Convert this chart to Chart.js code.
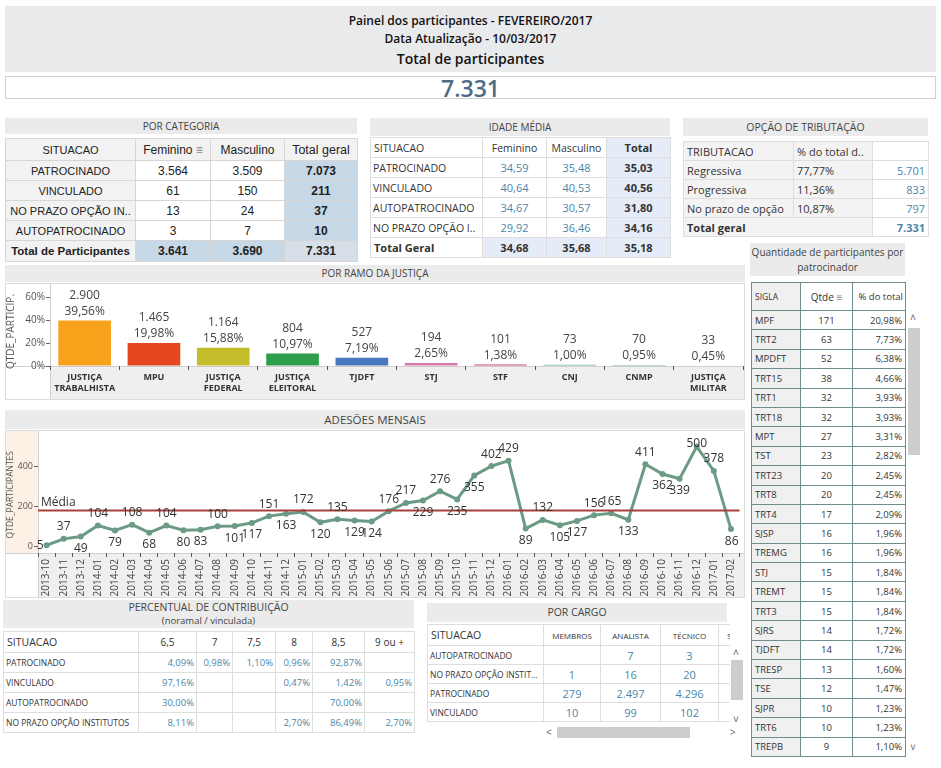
<!DOCTYPE html>
<html>
<head>
<meta charset="utf-8">
<script src="https://cdn.jsdelivr.net/npm/chart.js@4.4.1/dist/chart.umd.min.js"></script>
<style>
body{margin:0;width:941px;height:768px;background:#fff;font-family:'Open Sans',sans-serif;color:#333;position:relative;overflow:hidden}
.abs{position:absolute}
.ttl{background:#ebebeb;text-align:center;font-size:10px;color:#444}
table{border-collapse:collapse;table-layout:fixed}
td{padding:0 3px;white-space:nowrap;overflow:hidden;text-overflow:ellipsis}
#cat td{border:1px solid #d6d6d6;text-align:center;color:#222;padding:0 2px}
#idade td,#trib td,#contrib td,#cargo td{border:1px solid #dedede}
#pat td{border:1px solid #6f8d8d}
.blue{color:#4a86aa}
.sb{position:absolute;font-size:10px;color:#666}
</style>
</head>
<body>

<div class="abs" style="left:5px;top:6px;width:931px;height:66px;background:#e9eaec;text-align:center">
  <div style="font-size:12px;font-weight:600;margin-top:6px;line-height:18px;color:#111">Painel dos participantes - FEVEREIRO/2017</div>
  <div style="font-size:12px;font-weight:600;line-height:18px;color:#111">Data Atualização - 10/03/2017</div>
  <div style="font-size:14px;font-weight:600;line-height:22px;color:#111">Total de participantes</div>
</div>
<div class="abs" id="total" style="left:5px;top:76px;width:929px;height:21px;border:1px solid #cfcfcf;text-align:center;font-size:23px;line-height:22px;color:#4d6b86;font-weight:600"></div>

<div class="abs" id="cat" style="left:5px;top:118px;width:352px"></div>
<div class="abs" id="idade" style="left:370px;top:118px;width:300px"></div>
<div class="abs" id="trib" style="left:683px;top:118px;width:245px"></div>
<div class="abs" id="pat" style="left:750px;top:243px;width:156px"></div>
<div class="sb" style="left:910px;top:310px">&#x2C4;</div>
<div class="abs" style="left:908px;top:328px;width:12px;height:127px;background:#cdcdcd"></div>
<div class="sb" style="left:910px;top:740px">&#x2C5;</div>

<div class="abs" style="left:5px;top:265px;width:740px;height:17px;line-height:17px;background:#ebebeb;text-align:center;font-size:10px;color:#444">POR RAMO DA JUSTIÇA</div>
<div class="abs" style="left:5px;top:283px"><canvas id="ramo" width="740" height="117"></canvas></div>

<div class="abs" style="left:5px;top:410px;width:740px;height:19px;line-height:19px;background:#ebebeb;text-align:center;font-size:11.5px;color:#444">ADESÕES MENSAIS</div>
<div class="abs" style="left:5px;top:430px"><canvas id="adesoes" width="740" height="168"></canvas></div>

<div class="abs" id="contrib" style="left:3px;top:600px;width:411px"></div>
<div class="abs" id="cargo" style="left:427px;top:603px;width:303px;overflow:hidden"></div>
<div class="sb" style="left:733px;top:645px">&#x2C4;</div>
<div class="abs" style="left:731px;top:660px;width:12px;height:40px;background:#cdcdcd"></div>
<div class="sb" style="left:733px;top:712px">&#x2C5;</div>
<div class="sb" style="left:546px;top:725px">&lt;</div>
<div class="abs" style="left:557px;top:727px;width:133px;height:11px;background:#cdcdcd"></div>
<div class="sb" style="left:730px;top:725px">&gt;</div>

<script>
// ---- dados ----
const totalParticipantes = 7331;

const catSituacao = ['PATROCINADO', 'VINCULADO', 'NO PRAZO OPÇÃO IN..', 'AUTOPATROCINADO'];
const catFeminino = [3564, 61, 13, 3];
const catMasculino = [3509, 150, 24, 7];
const catTotal = [7073, 211, 37, 10];
const catTotais = [3641, 3690, 7331];

const idadeSituacao = ['PATROCINADO', 'VINCULADO', 'AUTOPATROCINADO', 'NO PRAZO OPÇÃO I..'];
const idadeFeminino = [34.59, 40.64, 34.67, 29.92];
const idadeMasculino = [35.48, 40.53, 30.57, 36.46];
const idadeTotal = [35.03, 40.56, 31.80, 34.16];
const idadeGeral = [34.68, 35.68, 35.18];

const tribTipo = ['Regressiva', 'Progressiva', 'No prazo de opção'];
const tribPct = [77.77, 11.36, 10.87];
const tribQtde = [5701, 833, 797];
const tribTotal = 7331;

const ramoLabels = [['JUSTIÇA', 'TRABALHISTA'], 'MPU', ['JUSTIÇA', 'FEDERAL'], ['JUSTIÇA', 'ELEITORAL'], 'TJDFT', 'STJ', 'STF', 'CNJ', 'CNMP', ['JUSTIÇA', 'MILITAR']];
const ramoQtde = [2900, 1465, 1164, 804, 527, 194, 101, 73, 70, 33];
const ramoPct = [39.56, 19.98, 15.88, 10.97, 7.19, 2.65, 1.38, 1.00, 0.95, 0.45];
const ramoCores = ['#f8a21c', '#e5481f', '#c3bd2b', '#2f9e4a', '#4a78c0', '#d77aa8', '#c9476b', '#6fae9e', '#6fae9e', '#a9718f'];

const meses = ['2013-10', '2013-11', '2013-12', '2014-01', '2014-02', '2014-03', '2014-04', '2014-05', '2014-06', '2014-07',
  '2014-08', '2014-09', '2014-10', '2014-11', '2014-12', '2015-01', '2015-02', '2015-03', '2015-04', '2015-05',
  '2015-06', '2015-07', '2015-08', '2015-09', '2015-10', '2015-11', '2015-12', '2016-01', '2016-02', '2016-03',
  '2016-04', '2016-05', '2016-06', '2016-07', '2016-08', '2016-09', '2016-10', '2016-11', '2016-12', '2017-01', '2017-02'];
const adesoes = [5, 37, 49, 104, 79, 108, 68, 104, 80, 83,
  100, 101, 117, 151, 163, 172, 120, 135, 129, 124,
  176, 217, 229, 276, 235, 355, 402, 429, 89, 132,
  105, 127, 156, 165, 133, 411, 362, 339, 500, 378, 86];
// onde fica o rótulo: a = acima, b = abaixo, l = esquerda
const adesoesPos = ['l', 'a', 'b', 'a', 'b', 'a', 'b', 'a', 'b', 'b',
  'a', 'b', 'b', 'a', 'b', 'a', 'b', 'a', 'b', 'b',
  'a', 'a', 'b', 'a', 'b', 'b', 'a', 'a', 'b', 'a',
  'b', 'b', 'a', 'a', 'b', 'a', 'b', 'b', 'a', 'a', 'b'];
const adesoesTicks = [0, 200, 400];

const patSigla = ['MPF', 'TRT2', 'MPDFT', 'TRT15', 'TRT1', 'TRT18', 'MPT', 'TST', 'TRT23', 'TRT8', 'TRT4', 'SJSP',
  'TREMG', 'STJ', 'TREMT', 'TRT3', 'SJRS', 'TJDFT', 'TRESP', 'TSE', 'SJPR', 'TRT6', 'TREPB'];
const patQtde = [171, 63, 52, 38, 32, 32, 27, 23, 20, 20, 17, 16, 16, 15, 15, 15, 14, 14, 13, 12, 10, 10, 9];
const patPct = [20.98, 7.73, 6.38, 4.66, 3.93, 3.93, 3.31, 2.82, 2.45, 2.45, 2.09, 1.96, 1.96, 1.84, 1.84, 1.84,
  1.72, 1.72, 1.60, 1.47, 1.23, 1.23, 1.10];

const contribCols = ['6,5', '7', '7,5', '8', '8,5', '9 ou +'];
const contribSituacao = ['PATROCINADO', 'VINCULADO', 'AUTOPATROCINADO', 'NO PRAZO OPÇÃO INSTITUTOS'];
const contribValores = [
  [4.09, 0.98, 1.10, 0.96, 92.87, null],
  [97.16, null, null, 0.47, 1.42, 0.95],
  [30.00, null, null, null, 70.00, null],
  [8.11, null, null, 2.70, 86.49, 2.70]
];

const cargoCols = ['MEMBROS', 'ANALISTA', 'TÉCNICO', 'S/I'];
const cargoSituacao = ['AUTOPATROCINADO', 'NO PRAZO OPÇÃO INSTITU..', 'PATROCINADO', 'VINCULADO'];
const cargoValores = [
  [null, 7, 3, null],
  [1, 16, 20, null],
  [279, 2497, 4296, null],
  [10, 99, 102, null]
];

// ---- formatos ----
function fInt(n) { return String(n).replace(/\B(?=(\d{3})+(?!\d))/g, '.'); }
function fDec(n) { return n.toFixed(2).replace('.', ','); }
function fPct(n) { return fDec(n) + '%'; }
function cols(ws) { return '<colgroup>' + ws.map(w => `<col style="width:${w}px">`).join('') + '</colgroup>'; }

document.getElementById('total').textContent = fInt(totalParticipantes);

// POR CATEGORIA
let h = '<div class="ttl" style="height:16px;line-height:16px">POR CATEGORIA</div>';
h += `<table style="margin-top:4px;width:352px;font-family:'Liberation Sans',Arial,sans-serif;font-size:12px">` + cols([130, 75, 74, 73]);
h += '<tr style="height:22px;background:#f2f2f2"><td style="font-size:11px">SITUACAO</td><td>Feminino <span style="color:#888">&#8801;</span></td><td>Masculino</td><td style="font-size:12.5px">Total geral</td></tr>';
for (let i = 0; i < catSituacao.length; i++) {
  h += `<tr style="height:20px"><td style="background:#f2f2f2;font-size:11px">${catSituacao[i]}</td><td>${fInt(catFeminino[i])}</td><td>${fInt(catMasculino[i])}</td>` +
    `<td style="background:#c6d7e6;font-weight:bold;border-left:1px dotted #7d8ea0">${fInt(catTotal[i])}</td></tr>`;
}
h += `<tr style="height:21px;font-weight:bold"><td style="background:#f2f2f2;font-size:11.5px;padding:0 1px">Total de Participantes</td>` +
  `<td style="background:#c6d7e6">${fInt(catTotais[0])}</td><td style="background:#c6d7e6">${fInt(catTotais[1])}</td>` +
  `<td style="background:#d6dfe8;border-left:1px dotted #7d8ea0">${fInt(catTotais[2])}</td></tr></table>`;
document.getElementById('cat').innerHTML = h;

// IDADE MÉDIA
h = '<div class="ttl" style="height:18px;line-height:18px">IDADE MÉDIA</div>';
h += '<table style="margin-top:1px;width:300px;font-size:10.5px">' + cols([112, 64, 60, 64]);
h += '<tr style="height:20px"><td>SITUACAO</td><td style="text-align:center">Feminino</td><td style="text-align:center;padding:0 1px">Masculino</td><td style="text-align:center;font-weight:bold;background:#e6ecf7;font-size:11px">Total</td></tr>';
for (let i = 0; i < idadeSituacao.length; i++) {
  h += `<tr style="height:20px"><td style="padding:0 2px">${idadeSituacao[i]}</td><td class="blue" style="text-align:center;font-size:11px">${fDec(idadeFeminino[i])}</td>` +
    `<td class="blue" style="text-align:center;font-size:11px">${fDec(idadeMasculino[i])}</td><td style="text-align:center;font-weight:bold;background:#e6ecf7;font-size:11px">${fDec(idadeTotal[i])}</td></tr>`;
}
h += `<tr style="height:20px;font-weight:bold;font-size:11px"><td>Total Geral</td><td style="text-align:center;background:#e6ecf7">${fDec(idadeGeral[0])}</td>` +
  `<td style="text-align:center;background:#e6ecf7">${fDec(idadeGeral[1])}</td><td style="text-align:center;background:#e6ecf7">${fDec(idadeGeral[2])}</td></tr></table>`;
document.getElementById('idade').innerHTML = h;

// OPÇÃO DE TRIBUTAÇÃO
h = '<div class="ttl" style="height:18px;line-height:18px;font-size:10.5px">OPÇÃO DE TRIBUTAÇÃO</div>';
h += '<table style="margin-top:5px;width:245px;font-size:11px">' + cols([110, 79, 56]);
h += '<tr style="height:19px;background:#f3f3f3"><td>TRIBUTACAO</td><td>% do total d..</td><td style="background:#fff"></td></tr>';
for (let i = 0; i < tribTipo.length; i++) {
  h += `<tr style="height:19px"><td style="background:#f3f3f3">${tribTipo[i]}</td><td style="background:#f3f3f3">${fPct(tribPct[i])}</td><td class="blue" style="text-align:right">${fInt(tribQtde[i])}</td></tr>`;
}
h += `<tr style="height:19px;font-weight:bold"><td colspan="2" style="background:#f3f3f3">Total geral</td><td class="blue" style="text-align:right">${fInt(tribTotal)}</td></tr></table>`;
document.getElementById('trib').innerHTML = h;

// QUANTIDADE POR PATROCINADOR
h = '<div class="ttl" style="width:155px;height:33px;line-height:15px;padding-top:2px;box-sizing:border-box;font-size:10px">Quantidade de participantes por<br>patrocinador</div>';
h += '<table style="margin-top:6px;margin-left:1px;width:154px;font-size:9.5px">' + cols([49, 52, 53]);
h += '<tr style="height:28px"><td style="background:#f0f0f0;font-size:8.5px">SIGLA</td><td style="text-align:center;font-size:10px">Qtde <span style="color:#888">&#8801;</span></td><td style="text-align:right;padding:0 2px">% do total</td></tr>';
for (let i = 0; i < patSigla.length; i++) {
  h += `<tr style="height:19.4px"><td style="background:#f0f0f0">${patSigla[i]}</td><td style="text-align:center">${patQtde[i]}</td><td style="text-align:right">${fPct(patPct[i])}</td></tr>`;
}
h += '</table>';
document.getElementById('pat').innerHTML = h;

// PERCENTUAL DE CONTRIBUIÇÃO
h = '<div class="ttl" style="height:28px;line-height:13px;padding-top:1px;box-sizing:border-box;font-size:10.5px">PERCENTUAL DE CONTRIBUIÇÃO<br><span style="font-size:9.5px">(noramal / vinculada)</span></div>';
h += '<table style="margin-top:3px;width:411px;font-size:9px">' + cols([135, 58, 36, 43, 37, 52, 50]);
h += '<tr style="height:21px;font-size:10.5px"><td>SITUACAO</td>' + contribCols.map(c => `<td style="text-align:center;font-size:10px">${c}</td>`).join('') + '</tr>';
for (let i = 0; i < contribSituacao.length; i++) {
  h += `<tr style="height:20px"><td style="padding:0 2px;font-size:8.5px">${contribSituacao[i]}</td>` +
    contribValores[i].map(v => `<td class="blue" style="text-align:right;padding:0 2px;font-size:9.5px">${v === null ? '' : fPct(v)}</td>`).join('') + '</tr>';
}
h += '</table>';
document.getElementById('contrib').innerHTML = h;

// POR CARGO
h = '<div class="ttl" style="width:300px;height:19px;line-height:19px;font-size:10.5px">POR CARGO</div>';
h += '<table style="margin-top:2px;width:318px;font-size:8.5px">' + cols([116, 57, 60, 58, 27]);
h += '<tr style="height:21px"><td style="font-size:10.5px">SITUACAO</td>' + cargoCols.map(c => `<td style="text-align:center;font-size:8px">${c}</td>`).join('') + '</tr>';
for (let i = 0; i < cargoSituacao.length; i++) {
  h += `<tr style="height:19px"><td style="padding:0 2px">${cargoSituacao[i]}</td>` +
    cargoValores[i].map(v => `<td class="blue" style="text-align:center;font-size:11px">${v === null ? '' : fInt(v)}</td>`).join('') + '</tr>';
}
h += '</table>';
document.getElementById('cargo').innerHTML = h;

// ---- gráfico: por ramo da justiça ----
const fundoEixos = {
  id: 'fundoEixos',
  beforeDraw(chart, args, opts) {
    const { ctx, chartArea: a, width, height } = chart;
    ctx.save();
    if (opts.yColor) {
      ctx.fillStyle = opts.yColor;
      ctx.fillRect(0, 0, a.left, a.bottom);
    }
    ctx.fillStyle = '#efefef';
    ctx.fillRect(a.left, a.bottom, width - a.left, height - a.bottom);
    ctx.strokeStyle = '#cfcfcf';
    ctx.lineWidth = 1;
    ctx.beginPath();
    ctx.moveTo(0, a.bottom + 0.5); ctx.lineTo(width, a.bottom + 0.5);
    ctx.moveTo(a.left + 0.5, 0); ctx.lineTo(a.left + 0.5, height);
    ctx.stroke();
    ctx.strokeStyle = '#dcdcdc';
    ctx.strokeRect(0.5, 0.5, width - 1, height - 1);
    ctx.restore();
  }
};

const rotulosRamo = {
  id: 'rotulosRamo',
  afterDatasetsDraw(chart) {
    const ctx = chart.ctx;
    const meta = chart.getDatasetMeta(0);
    ctx.save();
    ctx.font = '12px "Open Sans"';
    ctx.fillStyle = '#444';
    ctx.textAlign = 'center';
    ctx.textBaseline = 'middle';
    meta.data.forEach((bar, i) => {
      ctx.fillText(fInt(ramoQtde[i]), bar.x, bar.y - 25);
      ctx.fillText(fPct(ramoPct[i]), bar.x, bar.y - 9);
    });
    ctx.restore();
  }
};

new Chart(document.getElementById('ramo'), {
  type: 'bar',
  data: {
    labels: ramoLabels,
    datasets: [{ data: ramoPct, backgroundColor: ramoCores, barPercentage: 0.76, categoryPercentage: 1 }]
  },
  options: {
    responsive: false,
    animation: false,
    layout: { padding: { top: 14, right: 2 } },
    plugins: { legend: { display: false }, tooltip: { enabled: false }, fundoEixos: {} },
    scales: {
      x: {
        grid: { drawOnChartArea: false, offset: true, tickLength: 4, color: '#555' },
        border: { display: false },
        ticks: { font: { family: 'Open Sans', size: 9, weight: 'bold' }, color: '#333', maxRotation: 0, padding: 2 },
        afterFit(s) { s.height = 34; }
      },
      y: {
        min: 0, max: 60,
        ticks: { stepSize: 20, callback: v => v + '%', font: { family: 'Open Sans', size: 10 }, color: '#555', padding: 1 },
        grid: { drawOnChartArea: false, tickLength: 4, color: '#666' },
        border: { display: false },
        title: { display: true, text: 'QTDE_PARTICIP.', font: { family: 'Open Sans', size: 10 }, color: '#555', padding: 0 },
        afterFit(s) { s.width = 45; }
      }
    }
  },
  plugins: [fundoEixos, rotulosRamo]
});

// ---- gráfico: adesões mensais ----
const media = adesoes.reduce((s, v) => s + v, 0) / adesoes.length;

const linhaMedia = {
  id: 'linhaMedia',
  afterDatasetsDraw(chart) {
    const { ctx, chartArea: a, scales } = chart;
    const y = scales.y.getPixelForValue(media);
    ctx.save();
    ctx.strokeStyle = '#a8413a';
    ctx.lineWidth = 2;
    ctx.beginPath();
    ctx.moveTo(a.left, y); ctx.lineTo(a.right, y);
    ctx.stroke();
    ctx.font = '12px "Open Sans"';
    ctx.fillStyle = '#333';
    ctx.textBaseline = 'bottom';
    ctx.fillText('Média', a.left + 3, y - 2);

    const meta = chart.getDatasetMeta(0);
    ctx.textBaseline = 'middle';
    meta.data.forEach((pt, i) => {
      let x = pt.x, yy = pt.y;
      ctx.textAlign = 'center';
      if (adesoesPos[i] === 'a') yy = Math.max(pt.y - 12, 14);
      else if (adesoesPos[i] === 'b') yy = pt.y + 12;
      else { ctx.textAlign = 'right'; x = pt.x - 3; }
      if (i === adesoes.length - 1) { ctx.textAlign = 'right'; x = a.right - 1; }
      ctx.fillText(String(adesoes[i]), x, yy);
    });
    ctx.restore();
  }
};

new Chart(document.getElementById('adesoes'), {
  type: 'line',
  data: {
    labels: meses,
    datasets: [{
      data: adesoes, borderColor: '#6b9a85', backgroundColor: '#6b9a85', borderWidth: 3,
      pointRadius: 3, pointBackgroundColor: '#6b9a85', pointBorderWidth: 0, tension: 0
    }]
  },
  options: {
    responsive: false,
    animation: false,
    layout: { padding: { top: 3, right: 0 } },
    plugins: { legend: { display: false }, tooltip: { enabled: false }, fundoEixos: { yColor: '#fcf1e4' } },
    scales: {
      x: {
        offset: true,
        grid: { drawOnChartArea: false, offset: true, tickLength: 4, color: '#555' },
        border: { display: false },
        ticks: { autoSkip: false, maxRotation: 90, minRotation: 90, font: { family: 'Open Sans', size: 10 }, color: '#444', padding: 2 },
        afterFit(s) { s.height = 45; }
      },
      y: {
        min: -34, max: 551,
        afterBuildTicks(s) { s.ticks = adesoesTicks.map(v => ({ value: v })); },
        ticks: { font: { family: 'Open Sans', size: 9 }, color: '#555', padding: 1 },
        grid: { drawOnChartArea: false, tickLength: 4, color: '#666' },
        border: { display: false },
        title: { display: true, text: 'QTDE_PARTICIPANTES', font: { family: 'Open Sans', size: 8.5 }, color: '#555', padding: 0 },
        afterFit(s) { s.width = 33; }
      }
    }
  },
  plugins: [fundoEixos, linhaMedia]
});
</script>
</body>
</html>
